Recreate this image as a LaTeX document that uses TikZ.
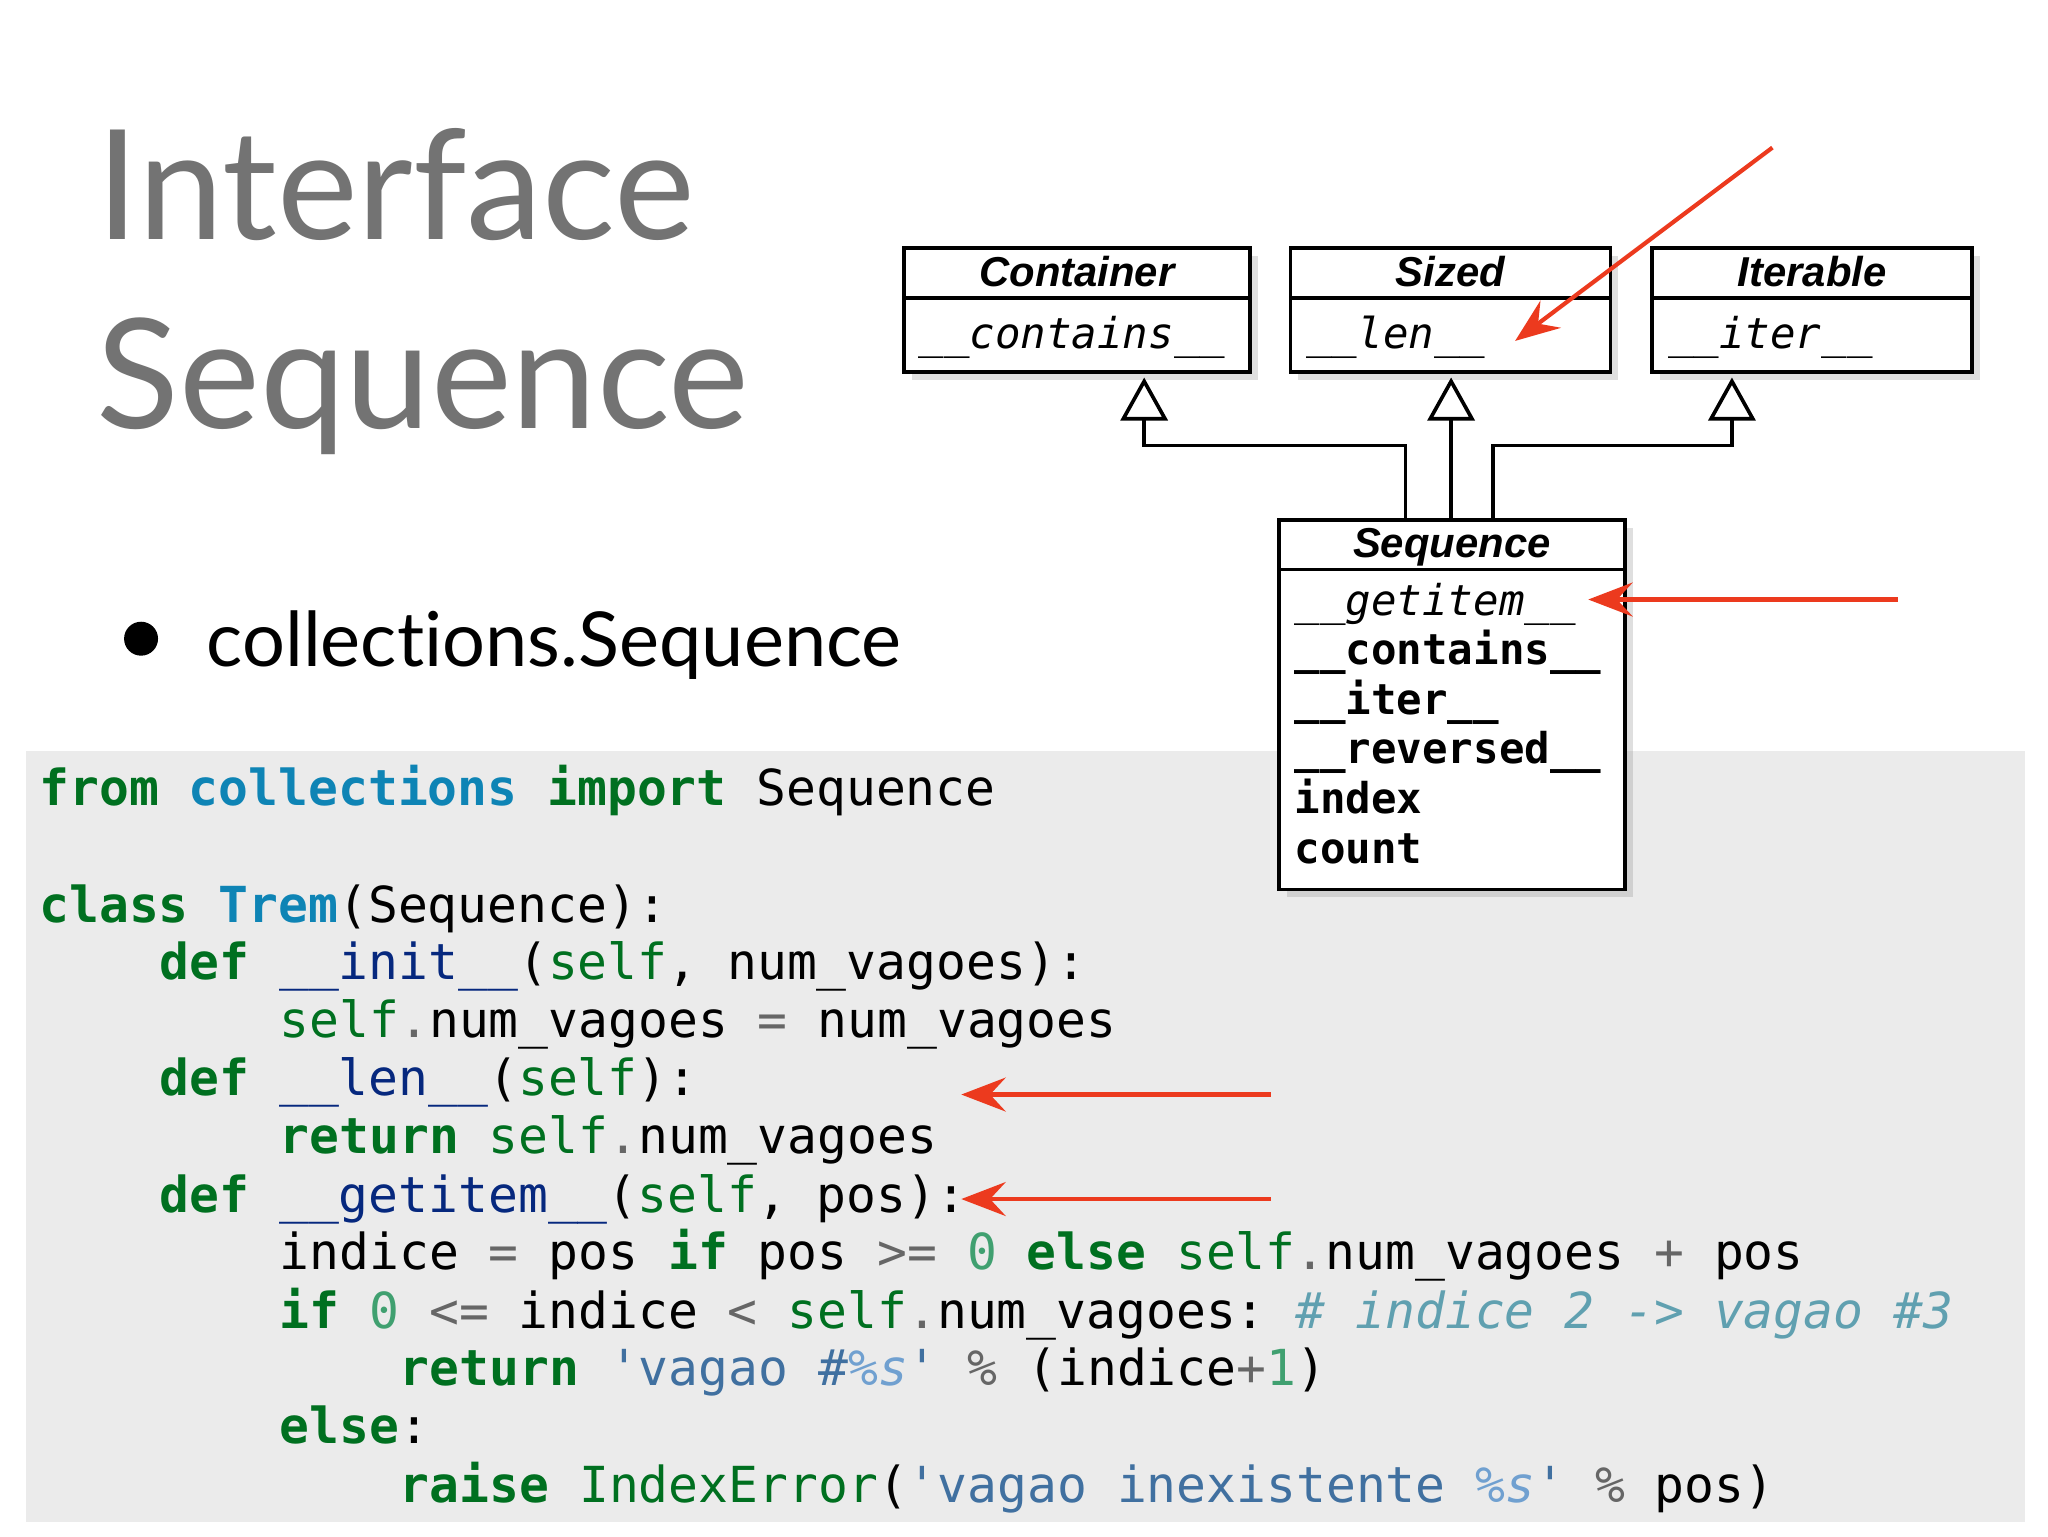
\documentclass[tikz,border=0pt]{standalone}
\usepackage{fontspec}
\setmainfont{Lato}[Ligatures={NoCommon,NoRare}]
\setmonofont{DejaVu Sans Mono}
\newfontfamily\umlsans{Liberation Sans}
\usetikzlibrary{arrows.meta,shadows}
\definecolor{kwg}{HTML}{007020}
\definecolor{clsb}{HTML}{0E84B5}
\definecolor{fnb}{HTML}{06287E}
\definecolor{numc}{HTML}{40A070}
\definecolor{strc}{HTML}{4070A0}
\definecolor{cmtc}{HTML}{60A0B0}
\definecolor{opc}{HTML}{666666}
\definecolor{ifc}{HTML}{70A0D0}
\definecolor{redarr}{HTML}{EC3A1E}
\definecolor{codebg}{HTML}{EBEBEB}
\newcommand{\KW}[1]{{\color{kwg}\bfseries #1}}
\newcommand{\CL}[1]{{\color{clsb}\bfseries #1}}
\newcommand{\FN}[1]{{\color{fnb}#1}}
\newcommand{\NM}[1]{{\color{numc}#1}}
\newcommand{\ST}[1]{{\color{strc}#1}}
\newcommand{\CM}[1]{{\color{cmtc}\itshape #1}}
\newcommand{\OP}[1]{{\color{opc}#1}}
\newcommand{\SL}[1]{{\color{kwg}#1}}
\newcommand{\IF}[1]{{\color{ifc}\itshape #1}}
\tikzset{
  codeline/.style={anchor=base west,inner sep=0,font=\fontsize{38}{38}\ttfamily},
  umlbox/.style={draw,line width=2.8pt,fill=white,drop shadow={shadow xshift=6pt,shadow yshift=-6pt,opacity=0.25}},
  umlname/.style={font=\fontsize{32}{32}\umlsans\bfseries\itshape,anchor=base},
  umlop/.style={font=\fontsize{32.5}{38}\ttfamily,anchor=base west,inner sep=0},
  inh/.style={-{Triangle[open,width=36pt,length=33pt,line width=2.8pt]},line width=2.8pt},
  redar/.style={redarr,line width=3.2pt,-{Stealth[length=34pt,width=26pt,inset=12pt]}}
}
\begin{document}
\begin{tikzpicture}[x=1pt,y=-1pt]
\useasboundingbox (0,0) rectangle (1568,1176);
\fill[white] (0,0) rectangle (1568,1176);
\node[anchor=base west,inner sep=0,text=black!55,font=\fontsize{117}{117}\selectfont] (t1) at (74,183) {Interface};
\node[anchor=base west,inner sep=0,text=black!55,font=\fontsize{117}{117}\selectfont] (t2) at (74,328) {Sequence};
\fill (108,489) circle (13);
\node[anchor=base west,inner sep=0,font=\fontsize{58}{58}\selectfont] (bul) at (158,510) {collections.Sequence};
\fill[codebg] (20,575) rectangle (1550,1165);
% code
\def\cx{30}\def\cw{23}
\node[codeline] (c1) at (\cx,617) {\KW{from} \CL{collections} \KW{import} Sequence};
\node[codeline] (c2) at (\cx,706) {\KW{class} \CL{Trem}(Sequence):};
\node[codeline] (c3) at (\cx+4*\cw,750) {\KW{def} \FN{\_\_init\_\_}(\SL{self}, num\_vagoes):};
\node[codeline] (c4) at (\cx+8*\cw,794) {\SL{self}\OP{.}num\_vagoes \OP{=} num\_vagoes};
\node[codeline] (c5) at (\cx+4*\cw,839) {\KW{def} \FN{\_\_len\_\_}(\SL{self}):};
\node[codeline] (c6) at (\cx+8*\cw,883) {\KW{return} \SL{self}\OP{.}num\_vagoes};
\node[codeline] (c7) at (\cx+4*\cw,928) {\KW{def} \FN{\_\_getitem\_\_}(\SL{self}, pos):};
\node[codeline] (c8) at (\cx+8*\cw,972) {indice \OP{=} pos \KW{if} pos \OP{>=} \NM{0} \KW{else} \SL{self}\OP{.}num\_vagoes \OP{+} pos};
\node[codeline] (c9) at (\cx+8*\cw,1017) {\KW{if} \NM{0} \OP{<=} indice \OP{<} \SL{self}\OP{.}num\_vagoes: \CM{\# indice 2 -> vagao \#3}};
\node[codeline] (c10) at (\cx+12*\cw,1061) {\KW{return} \ST{'vagao \#\IF{\%s}'} \OP{\%} (indice\OP{+}\NM{1})};
\node[codeline] (c11) at (\cx+8*\cw,1105) {\KW{else}:};
\node[codeline] (c12) at (\cx+12*\cw,1150) {\KW{raise} \SL{IndexError}(\ST{'vagao inexistente \IF{\%s}'} \OP{\%} pos)};
% UML boxes
\draw[umlbox] (692,190) rectangle (957,285);
\draw[line width=2.8pt] (692,228) -- (957,228);
\node[umlname] (cn) at (824.5,219) {Container};
\node[umlop] (co) at (703,267) {\itshape \_\_contains\_\_};
\draw[umlbox] (988,190) rectangle (1233,285);
\draw[line width=2.8pt] (988,228) -- (1233,228);
\node[umlname] (sn) at (1110.5,219) {Sized};
\node[umlop] (so) at (1000,267) {\itshape \_\_len\_\_};
\draw[umlbox] (1265,190) rectangle (1510,285);
\draw[line width=2.8pt] (1265,228) -- (1510,228);
\node[umlname] (in) at (1387.5,219) {Iterable};
\node[umlop] (io) at (1277,267) {\itshape \_\_iter\_\_};
\draw[umlbox] (979,398) rectangle (1244,681);
\draw[line width=2.8pt] (979,436) -- (1244,436);
\node[umlname] (qn) at (1111.5,427) {Sequence};
\node[umlop,align=left,anchor=north west] (qo) at (991,446) {\itshape \_\_getitem\_\_\\ \bfseries \_\_contains\_\_\\ \bfseries \_\_iter\_\_\\ \bfseries \_\_reversed\_\_\\ \bfseries index\\ \bfseries count};
% generalization
\coordinate (a1) at (876,289);
\coordinate (a2) at (1111,289);
\coordinate (a3) at (1326,289);
\draw[inh] (1076,398) |- (876,341) -- (a1);
\draw[inh] (1111,398) -- (a2);
\draw[inh] (1143,398) |- (1326,341) -- (a3);
% red arrows
\coordinate (r1s) at (1357,113); \coordinate (r1e) at (1160,261);
\coordinate (r2s) at (1453,459); \coordinate (r2e) at (1216,459);
\coordinate (r3s) at (973,838); \coordinate (r3e) at (736,838);
\coordinate (r4s) at (973,918); \coordinate (r4e) at (736,918);
\draw[redar] (r1s) -- (r1e);
\draw[redar] (r2s) -- (r2e);
\draw[redar] (r3s) -- (r3e);
\draw[redar] (r4s) -- (r4e);
\end{tikzpicture}
\end{document}
